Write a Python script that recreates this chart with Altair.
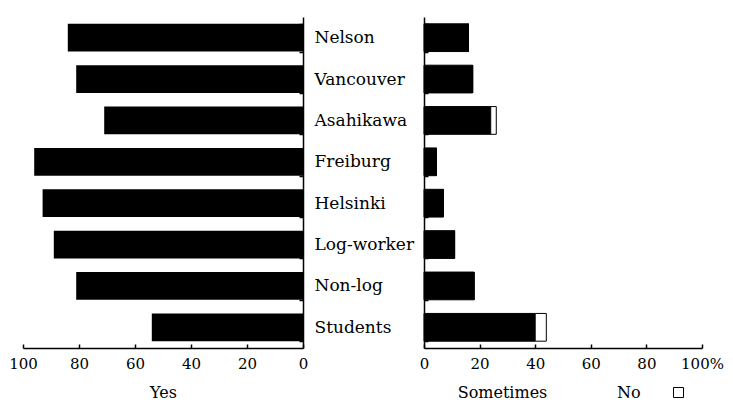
import altair as alt
import pandas as pd

groups = ["Nelson", "Vancouver", "Asahikawa", "Freiburg", "Helsinki", "Log-worker", "Non-log", "Students"]
yes = [84, 81, 71, 96, 93, 89, 81, 54]
sometimes = [16, 17.5, 24, 4.5, 7, 11, 18, 40]
no = [0, 0, 2, 0, 0, 0, 0, 4]
tick_values = [0, 20, 40, 60, 80, 100]
answers = ["Sometimes", "No"]

FONT = "DejaVu Serif"

left_df = pd.DataFrame({"group": groups, "value": yes})
right_df = pd.DataFrame({
    "group": groups * 2,
    "answer": ["Sometimes"] * len(groups) + ["No"] * len(groups),
    "value": sometimes + no,
    "order": [0] * len(groups) + [1] * len(groups),
})

yscale = alt.Scale(domain=groups, paddingInner=0.33, paddingOuter=0.165)
inward = {"expr": "-4"}

left = alt.Chart(left_df).mark_bar(color="black").encode(
    x=alt.X("value:Q",
            scale=alt.Scale(domain=[0, 100], reverse=True, nice=False),
            axis=alt.Axis(values=tick_values, title="Yes", grid=False, tickSize=inward,
                          labelFlush=False, labelPadding=12, titlePadding=13)),
    y=alt.Y("group:N", sort=groups, scale=yscale,
            axis=alt.Axis(orient="right", title=None, tickBand="extent", tickSize=inward,
                          labelAlign="left", labelPadding=15, labelFontSize=17)),
).properties(width=280, height=331)

right = alt.Chart(right_df).mark_bar(stroke="black", strokeWidth=1).encode(
    x=alt.X("value:Q",
            scale=alt.Scale(domain=[0, 100], nice=False),
            stack="zero",
            axis=alt.Axis(values=tick_values, title="Sometimes", grid=False, tickSize=inward,
                          labelFlush=False, labelPadding=12, titlePadding=13,
                          titleX=78, titleAnchor="start", titleAlign="center",
                          labelExpr="datum.value == 100 ? '100%' : datum.label")),
    y=alt.Y("group:N", sort=groups, scale=yscale,
            axis=alt.Axis(orient="left", title=None, tickBand="extent", tickSize=inward, labels=False)),
    color=alt.Color("answer:N", scale=alt.Scale(domain=answers, range=["black", "white"]),
                    legend=alt.Legend(values=["No"], orient="none", legendX=594, legendY=370,
                                      title="No", titleOrient="left", titlePadding=32,
                                      titleFont=FONT, titleFontSize=16, titleFontWeight="normal",
                                      titleColor="black", titleBaseline="middle",
                                      symbolType="square", symbolSize=100, symbolStrokeColor="black",
                                      symbolStrokeWidth=1, labelExpr="''", labelOffset=0,
                                      padding=0, offset=0)),
    order=alt.Order("order:Q"),
).properties(width=278, height=331)

chart = alt.hconcat(left, right, spacing=121, bounds="flush").properties(
    padding={"left": 0, "top": 0, "right": 0, "bottom": 0},
    background="white",
).configure_view(stroke=None).configure_axis(
    domainColor="black", tickColor="black", labelColor="black", titleColor="black",
    labelFont=FONT, titleFont=FONT, labelFontSize=15, titleFontSize=16,
    titleFontWeight="normal", domainWidth=1.5, tickWidth=1.5,
)

chart.save("out.html", embed_options={"renderer": "svg", "actions": False})
